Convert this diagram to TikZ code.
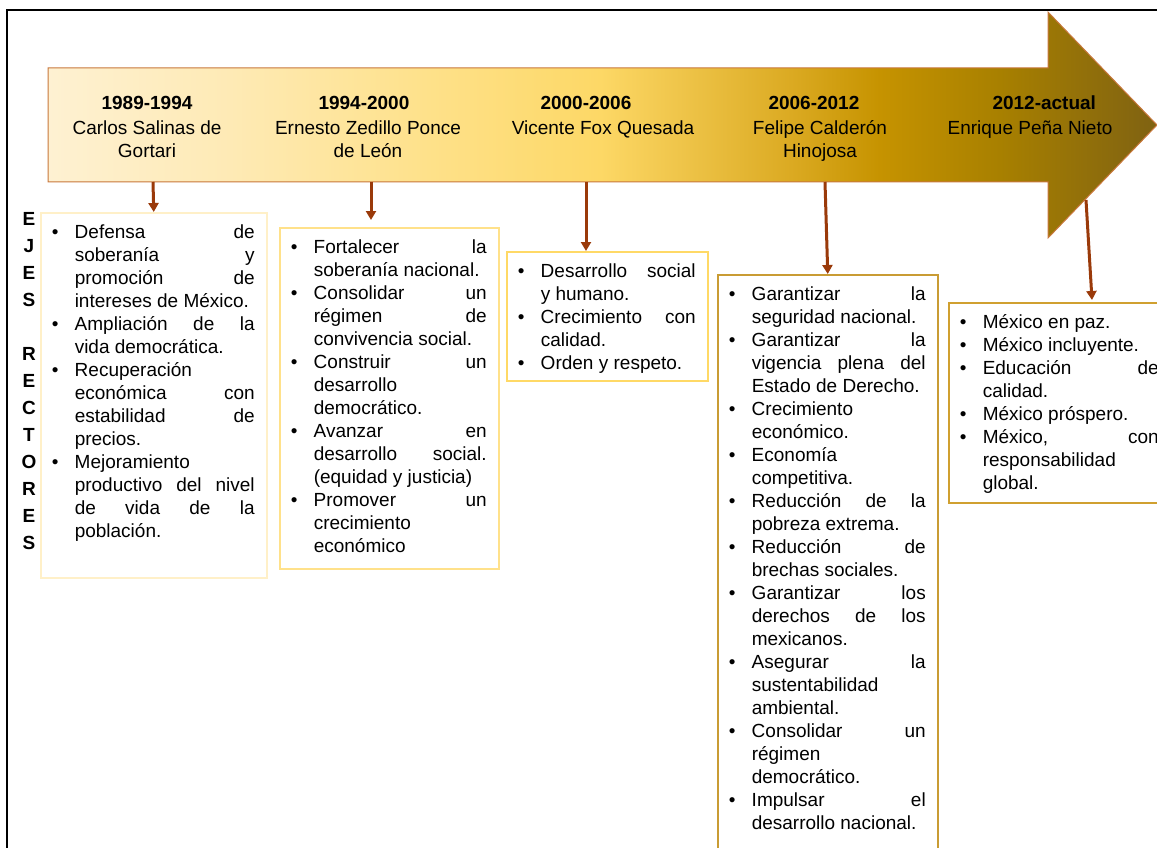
\documentclass[tikz,border=0pt]{standalone}
\usepackage{fontspec}
\setmainfont{Liberation Sans}
\usepackage{xcolor}
\usepackage{tikz}
\usetikzlibrary{arrows.meta,calc,positioning}

\definecolor{am0}{HTML}{FEF1D2}
\definecolor{am1}{HTML}{FEEAB5}
\definecolor{am2}{HTML}{FEE28E}
\definecolor{am3}{HTML}{FDD866}
\definecolor{am4}{HTML}{DBAA22}
\definecolor{am5}{HTML}{C69300}
\definecolor{am6}{HTML}{A88000}
\definecolor{am7}{HTML}{7F6212}
\definecolor{cafe}{HTML}{9A3A0A}
\definecolor{bordeflecha}{HTML}{C8783C}
\definecolor{borde1}{HTML}{FFF0C8}
\definecolor{borde2}{HTML}{FFE18A}
\definecolor{borde3}{HTML}{FFD966}
\definecolor{borde4}{HTML}{C99C34}
\definecolor{borde5}{HTML}{D0A030}

\pgfdeclarehorizontalshading{degradado}{100bp}{color(0bp)=(am0); color(25bp)=(am0); color(33.2bp)=(am1); color(41.3bp)=(am2); color(49.9bp)=(am3); color(58.5bp)=(am4); color(62.5bp)=(am5); color(67.9bp)=(am6); color(75bp)=(am7); color(100bp)=(am7)}

\newcommand{\vineta}{\par\hangindent=34pt\hangafter=1\noindent\strut\hbox to 34pt{\hskip 11pt\textbullet\hfil}\ignorespaces}
\newcommand{\lista}[3]{\parbox[t][#2][t]{#1}{\fontsize{19}{23}\selectfont\rightskip=12pt\relax\hyphenpenalty=10000\tolerance=10000\hbadness=10000\vspace*{9.4pt}#3\par}}

\begin{document}
\begin{tikzpicture}[x=1pt, y=-1pt, >={Triangle[width=10pt,length=9pt]},
    caja/.style={draw, line width=1.5pt, inner sep=0pt, anchor=north west},
    cabecera/.style={anchor=north, inner sep=0pt, align=center, font=\fontsize{19}{23}\selectfont},
    ejes/.style={anchor=north, inner sep=0pt, align=center, font=\fontsize{19}{27}\selectfont\bfseries},
    conector/.style={->, draw=cafe, line width=3pt}]
    \useasboundingbox (0,0) rectangle (1157,848);
    \clip (0,0) rectangle (1157,848);

    \draw[line width=2pt] (7,860) -- (7,10) -- (1170,10);

    \draw[draw=bordeflecha, line width=1pt, shade, shading=degradado]
        (48,68) -- (1048,68) -- (1048,12) -- (1157,125) -- (1048,238) -- (1048,182) -- (48,182) -- cycle;

    \node[cabecera] (p1) at (147,92.9) {\strut\textbf{1989-1994}\\[2pt]Carlos Salinas de\\Gortari};
    \node[cabecera] (p2) at (368,92.9) {\strut\makebox[99pt][l]{\textbf{1994-2000}}\\[2pt]Ernesto Zedillo Ponce\\de León};
    \node[cabecera] (p3) at (603,92.9) {\strut\makebox[125pt][l]{\textbf{2000-2006}}\\[2pt]Vicente Fox Quesada};
    \node[cabecera] (p4) at (820,92.9) {\strut\makebox[103pt][l]{\textbf{2006-2012}}\\[2pt]Felipe Calderón\\Hinojosa};
    \node[cabecera] (p5) at (1030,92.9) {\strut\makebox[132pt][r]{\textbf{2012-actual}}\\[2pt]Enrique Peña Nieto};

    \node[ejes] (ejes) at (29,206) {\strut E\\J\\E\\S\\[27pt]R\\E\\C\\T\\O\\R\\E\\S};

    \node[caja, draw=borde1] (caja1) at (40,212) {\lista{226pt}{365pt}{%
        \vineta Defensa de\linebreak soberanía y\linebreak promoción de\linebreak intereses de México.
        \vineta Ampliación de la\linebreak vida democrática.
        \vineta Recuperación\linebreak económica con\linebreak estabilidad de\linebreak precios.
        \vineta Mejoramiento\linebreak productivo del nivel\linebreak de vida de la\linebreak población.}};
    \node[caja, draw=borde2] (caja2) at (279,227) {\lista{219pt}{341pt}{%
        \vineta Fortalecer la\linebreak soberanía nacional.
        \vineta Consolidar un\linebreak régimen de\linebreak convivencia social.
        \vineta Construir un\linebreak desarrollo\linebreak democrático.
        \vineta Avanzar en\linebreak desarrollo social.\linebreak (equidad y justicia)
        \vineta Promover un\linebreak crecimiento\linebreak económico}};
    \node[caja, draw=borde3] (caja3) at (506,251) {\lista{201pt}{129pt}{%
        \vineta Desarrollo social\linebreak y humano.
        \vineta Crecimiento con\linebreak calidad.
        \vineta Orden y respeto.}};
    \node[caja, draw=borde4] (caja4) at (717,274) {\lista{220pt}{590pt}{%
        \vineta Garantizar la\linebreak seguridad nacional.
        \vineta Garantizar la\linebreak vigencia plena del\linebreak Estado de Derecho.
        \vineta Crecimiento\linebreak económico.
        \vineta Economía\linebreak competitiva.
        \vineta Reducción de la\linebreak pobreza extrema.
        \vineta Reducción de\linebreak brechas sociales.
        \vineta Garantizar los\linebreak derechos de los\linebreak mexicanos.
        \vineta Asegurar la\linebreak sustentabilidad\linebreak ambiental.
        \vineta Consolidar un\linebreak régimen\linebreak democrático.
        \vineta Impulsar el\linebreak desarrollo nacional.}};
    \node[caja, draw=borde5] (caja5) at (948,302) {\lista{222pt}{200pt}{%
        \vineta México en paz.
        \vineta México incluyente.
        \vineta Educación de\linebreak calidad.
        \vineta México próspero.
        \vineta México, con\linebreak responsabilidad\linebreak global.}};

    \coordinate (a1) at (153,182);
    \coordinate (a2) at (371,182);
    \coordinate (b2) at (371,220);
    \coordinate (a3) at (586,182);
    \coordinate (a4) at (825,182);
    \coordinate (a5) at (1086,200);
    \coordinate (b5) at (1092,300);

    \draw[conector] (a1) -- (caja1.north);
    \draw[conector] (a2) -- (b2);
    \draw[conector] (a3) -- (a3 |- caja3.north);
    \draw[conector] (a4) -- (caja4.north);
    \draw[conector] (a5) -- (b5);
\end{tikzpicture}
\end{document}
